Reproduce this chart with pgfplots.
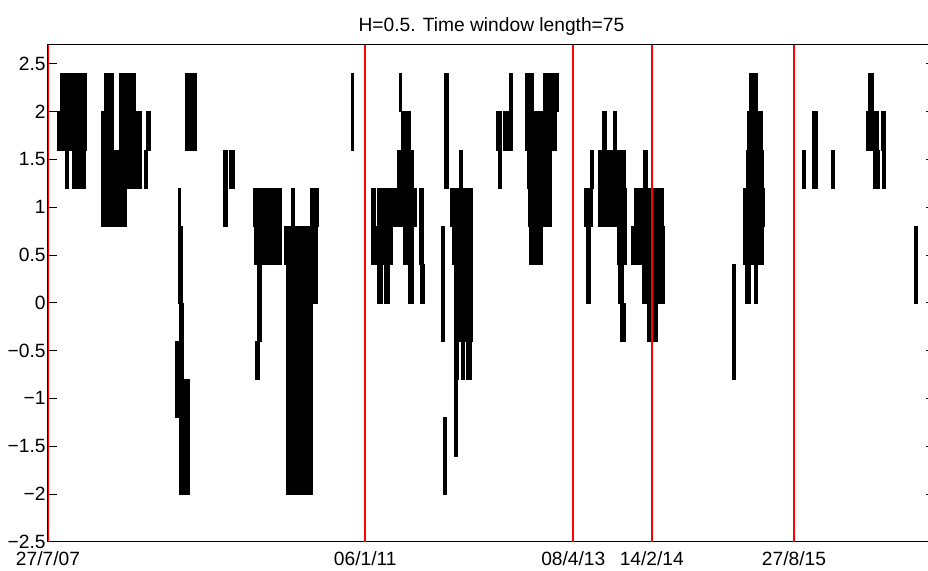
\documentclass[border=0pt]{standalone}
\usepackage{pgfplots}
\pgfplotsset{compat=1.18}
\usepackage{fontspec}
\setmainfont{Liberation Sans}
\newcommand\R[4]{\addplot[bx] coordinates {(#1,#3) (#2,#3) (#2,#4) (#1,#4)};}
\begin{document}
\fontsize{9.6}{11}\selectfont
\begin{tikzpicture}[bx/.style={fill=black,draw=black,line width=0.15pt},
  rl/.style={draw=red,line width=0.9pt}]
\begin{axis}[
  at={(0,0)}, anchor=south west,
  scale only axis, width=443.5pt, height=248.5pt,
  xmin=0, xmax=887, ymin=-2.5, ymax=2.7,
  axis line style={line width=0.5pt},
  tick align=inside, tick pos=both,
  major tick length=4.3pt,
  every tick/.style={black,line width=0.4pt},
  xtick={0,317.3,525.3,603.8,746},
  xticklabels={27/7/07,06/1/11,08/4/13,14/2/14,27/8/15},
  ytick={-2.5,-2,-1.5,-1,-0.5,0,0.5,1,1.5,2,2.5},
  yticklabels={−2.5,−2,−1.5,−1,−0.5,0,0.5,1,1.5,2,2.5},
  xticklabel style={anchor=base,yshift=-11.65pt},
  yticklabel style={anchor=east,inner xsep=1pt},
  title={H=0.5. Time window length=75},
  every axis title/.style={at={(0.5,1)},anchor=base,yshift=6.8pt},
]
% group 1
\R{12.0}{37.7}{2.0}{2.4}
\R{9.3}{37.7}{1.6}{2.0}
\R{16.7}{20.0}{1.2}{1.6}
\R{24.0}{36.7}{1.2}{1.6}
% group 2
\R{56.0}{65.3}{2.0}{2.4}
\R{70.7}{87.3}{2.0}{2.4}
\R{53.3}{65.3}{1.6}{2.0}
\R{70.7}{93.3}{1.6}{2.0}
\R{53.3}{93.3}{1.2}{1.6}
\R{53.3}{78.3}{0.8}{1.2}
\R{97.7}{101.7}{1.6}{2.0}
\R{96.0}{98.7}{1.2}{1.6}
% group 3
\R{137.3}{148.3}{1.6}{2.4}
\R{130.0}{132.3}{0.8}{1.2}
\R{130.5}{134.0}{0.0}{0.8}
\R{131.5}{135.0}{-2.0}{0.0}
\R{127.3}{131.5}{-1.2}{-0.4}
\R{135.0}{140.7}{-2.0}{-0.8}
% group 4
\R{175.0}{178.7}{0.8}{1.6}
\R{181.0}{186.0}{1.2}{1.6}
\R{205.3}{228.0}{0.8}{1.2}
\R{206.3}{228.0}{0.4}{0.8}
\R{228.7}{232.7}{0.4}{1.2}
\R{209.3}{212.7}{-0.4}{0.4}
\R{207.0}{211.0}{-0.8}{-0.4}
\R{243.0}{245.7}{0.8}{1.2}
\R{236.0}{264.3}{0.4}{0.8}
\R{237.7}{264.3}{-2.0}{0.4}
\R{262.0}{270.3}{0.8}{1.2}
\R{265.3}{268.7}{0.0}{0.8}
% group 5
\R{303.0}{305.3}{1.6}{2.4}
\R{323.0}{327.0}{0.4}{1.2}
\R{328.7}{348.7}{0.8}{1.2}
\R{327.7}{344.3}{0.4}{0.8}
\R{329.0}{333.7}{0.0}{0.4}
\R{336.3}{341.3}{0.0}{0.4}
\R{351.0}{353.0}{2.0}{2.4}
\R{353.0}{362.0}{1.6}{2.0}
\R{349.3}{364.7}{1.2}{1.6}
\R{350.3}{367.7}{0.8}{1.2}
\R{355.3}{364.7}{0.4}{0.8}
\R{359.7}{364.7}{0.0}{0.4}
\R{371.0}{375.3}{0.4}{1.2}
\R{372.0}{376.3}{0.0}{0.4}
\R{396.0}{399.7}{1.2}{2.4}
\R{392.7}{396.3}{-0.4}{0.8}
\R{395.3}{398.0}{-2.0}{-1.2}
\R{411.3}{413.7}{1.2}{1.6}
\R{402.0}{424.3}{0.8}{1.2}
\R{404.3}{424.3}{0.4}{0.8}
\R{406.0}{424.3}{-0.4}{0.4}
\R{406.3}{410.3}{-0.8}{-0.4}
\R{412.7}{416.0}{-0.8}{-0.4}
\R{417.7}{422.7}{-0.8}{-0.4}
\R{406.3}{408.7}{-1.6}{-0.8}
% group 6
\R{448.0}{453.0}{1.6}{2.0}
\R{449.7}{453.0}{1.2}{1.6}
\R{455.3}{464.3}{1.6}{2.0}
\R{461.0}{464.3}{2.0}{2.4}
\R{477.0}{485.3}{2.0}{2.4}
\R{494.7}{509.7}{2.0}{2.4}
\R{477.0}{507.7}{1.6}{2.0}
\R{478.7}{503.0}{1.2}{1.6}
\R{480.3}{503.0}{0.8}{1.2}
\R{481.3}{493.7}{0.4}{0.8}
% group 7
\R{542.0}{544.7}{1.2}{1.6}
\R{536.3}{543.7}{0.8}{1.2}
\R{538.0}{542.0}{0.0}{0.8}
\R{554.3}{557.7}{1.6}{2.0}
\R{565.3}{567.7}{1.6}{2.0}
\R{549.7}{577.0}{1.2}{1.6}
\R{549.7}{578.0}{0.8}{1.2}
\R{568.7}{578.0}{0.4}{0.8}
\R{570.3}{575.3}{0.0}{0.4}
\R{572.0}{577.0}{-0.4}{0.0}
% group 8
\R{594.7}{598.7}{1.2}{1.6}
\R{586.3}{614.7}{0.8}{1.2}
\R{583.0}{616.0}{0.4}{0.8}
\R{593.7}{616.0}{0.0}{0.4}
\R{599.3}{608.7}{-0.4}{0.0}
% group 9
\R{701.0}{708.7}{2.0}{2.4}
\R{699.3}{713.7}{1.6}{2.0}
\R{698.0}{714.7}{1.2}{1.6}
\R{695.3}{716.0}{0.8}{1.2}
\R{695.3}{714.7}{0.4}{0.8}
\R{696.7}{698.7}{0.0}{0.4}
\R{699.7}{701.7}{0.0}{0.4}
\R{706.3}{708.7}{0.0}{0.4}
\R{683.7}{687.0}{-0.8}{0.4}
% group 10
\R{754.3}{757.0}{1.2}{1.6}
\R{764.3}{768.7}{1.2}{2.0}
\R{783.0}{786.0}{1.2}{1.6}
\R{819.7}{825.3}{2.0}{2.4}
\R{818.0}{830.3}{1.6}{2.0}
\R{833.0}{837.0}{1.6}{2.0}
\R{825.3}{831.0}{1.2}{1.6}
\R{833.7}{837.0}{1.2}{1.6}
\R{866.3}{869.3}{0.0}{0.8}
% red lines
\addplot[rl] coordinates {(0.3,-2.5) (0.3,2.7)};
\addplot[rl] coordinates {(317.3,-2.5) (317.3,2.7)};
\addplot[rl] coordinates {(525.3,-2.5) (525.3,2.7)};
\addplot[rl] coordinates {(603.8,-2.5) (603.8,2.7)};
\addplot[rl] coordinates {(746,-2.5) (746,2.7)};
\end{axis}
\pgfresetboundingbox
\path[use as bounding box] (-24pt,-14.15pt) rectangle (440pt,270.85pt);
\end{tikzpicture}
\end{document}
